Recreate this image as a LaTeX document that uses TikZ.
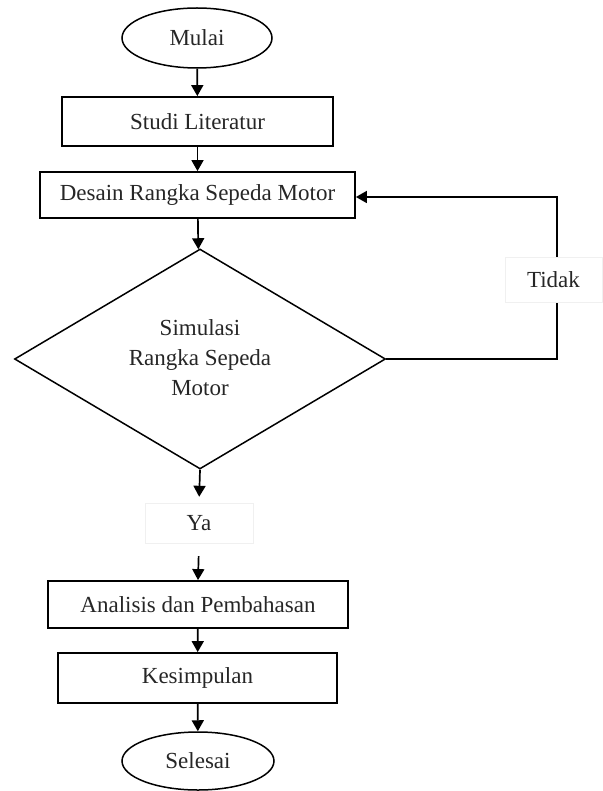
\documentclass[tikz,border=0pt]{standalone}
\usepackage{fontspec}
\setmainfont{Liberation Serif}
\usetikzlibrary{shapes.geometric,arrows.meta}
\begin{document}
\begin{tikzpicture}[x=1pt,y=-1pt,
  every node/.style={font=\fontsize{23}{30}\selectfont, text=black!85},
  proc/.style={draw, line width=1.8pt, inner sep=0pt},
  term/.style={draw, ellipse, line width=1.5pt, inner sep=0pt},
  decis/.style={draw, diamond, line width=1.5pt, inner sep=0pt, align=center},
  lbl/.style={draw=black!6, fill=white, inner sep=0pt},
  arr/.style={line width=1.7pt, -{Triangle[length=11pt,width=12pt]}},
  ln/.style={line width=1.7pt}]
\useasboundingbox (0,0) rectangle (602,791);
\node[term, minimum width=150pt, minimum height=60pt] (mulai) at (197,38) {Mulai};
\node[proc, minimum width=271pt, minimum height=49pt] (studi) at (197.5,121.5) {Studi Literatur};
\node[proc, minimum width=315pt, minimum height=46pt] (desain) at (197.5,195) {Desain Rangka Sepeda Motor};
\node[decis, minimum width=371pt, minimum height=220pt] (sim) at (200,359) {};
\node (simtext) at (200,358) [align=center] {Simulasi\\Rangka Sepeda\\Motor};
\node[lbl, minimum width=108pt, minimum height=40pt] (ya) at (199,523) {Ya};
\node[proc, minimum width=300pt, minimum height=47pt] (ana) at (198,604.5) {Analisis dan Pembahasan};
\node[proc, minimum width=279pt, minimum height=50pt] (kes) at (197.5,678) {Kesimpulan};
\node[term, minimum width=152pt, minimum height=58pt] (selesai) at (198,761) {Selesai};
\coordinate (c1) at (557,359);
\coordinate (c2) at (557,197);
\draw[arr] (mulai) -- (studi);
\draw[arr] (studi) -- (desain);
\draw[arr] (desain) -- (sim);
\draw[arr, shorten >=6pt] (sim.south) -- (ya.north);
\draw[arr, shorten <=13pt] (ya.south) -- (ana.north);
\draw[arr] (ana) -- (kes);
\draw[arr] (kes) -- (selesai);
\draw[arr] (sim.east) -- (c1) -- (c2) -- (desain.east |- c2);
\node[lbl, minimum width=97pt, minimum height=45pt] (tidak) at (553.5,280) {Tidak};
\end{tikzpicture}
\end{document}
